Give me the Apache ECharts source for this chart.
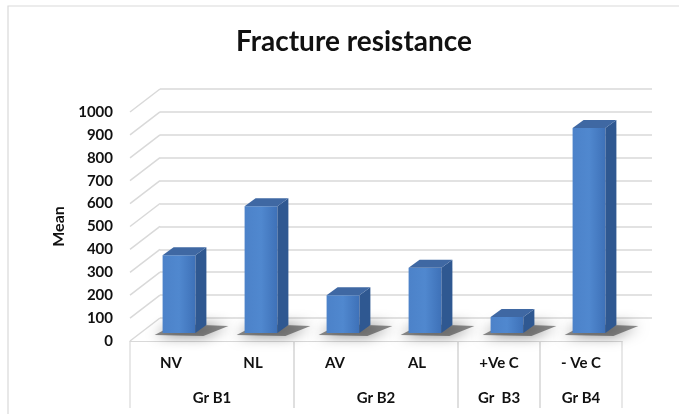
<!DOCTYPE html>
<html>
<head>
<meta charset="utf-8">
<script src="https://cdn.jsdelivr.net/npm/echarts@6/dist/echarts.min.js"></script>
<style>
  html, body { margin: 0; padding: 0; background: #fff; }
  #chart { width: 679px; height: 414px; }
</style>
</head>
<body>
<div id="chart"></div>
<script>
const categories = ['NV', 'NL', 'AV', 'AL', '+Ve C', '- Ve C'];
const meanValues = [340, 553, 165, 285, 70, 895];
const groupNames = ['Gr B1', 'Gr B2', 'Gr  B3', 'Gr B4'];
const groupStart = [0, 2, 4, 5];
const groupEnd = [1, 3, 4, 5];
const yTicks = [0, 100, 200, 300, 400, 500, 600, 700, 800, 900, 1000];

// fake 3d: back wall and bar plane are shifted copies of the front plane
const FRONT = { left: 130, top: 112, width: 492, height: 229 };
const WALL_DX = 30, WALL_DY = 23;
const BAR_DX = 8, BAR_DY = 8;
const BAR_DEPTH_X = 11, BAR_DEPTH_Y = 8;
const GRID_COLOR = '#d9d9d9';
const FONT = 'Lato';

const chart = echarts.init(document.getElementById('chart'));

function slantRender(params, api) {
  const p = api.coord([0, api.value(1)]);
  const x0 = p[0] - api.size([1, 0])[0] / 2;
  return {
    type: 'line',
    shape: { x1: x0, y1: p[1], x2: x0 + WALL_DX, y2: p[1] - WALL_DY },
    style: { stroke: GRID_COLOR, lineWidth: 1.5 }
  };
}

function tableRender(params, api) {
  const band = api.size([1, 0])[0];
  const a = api.coord([api.value(0), 0]);
  const b = api.coord([api.value(1), 0]);
  const x0 = a[0] - band / 2, x1 = b[0] + band / 2, y0 = a[1];
  return {
    type: 'group',
    children: [
      { type: 'line', shape: { x1: x0, y1: y0, x2: x0, y2: y0 + 67 }, style: { stroke: GRID_COLOR, lineWidth: 1.2 } },
      { type: 'line', shape: { x1: x1, y1: y0, x2: x1, y2: y0 + 67 }, style: { stroke: GRID_COLOR, lineWidth: 1.2 } },
      {
        type: 'text',
        style: {
          text: groupNames[params.dataIndex], x: (x0 + x1) / 2, y: y0 + 57,
          align: 'center', verticalAlign: 'middle',
          font: 'bold 15px ' + FONT, fill: '#111'
        }
      }
    ]
  };
}

function barRender(params, api) {
  const base = api.coord([api.value(0), 0]);
  const top = api.coord([api.value(0), api.value(1)]);
  const bw = api.size([1, 0])[0] * 0.4;
  const x0 = base[0] - bw / 2, x1 = base[0] + bw / 2;
  const yb = base[1], yt = top[1];
  const dx = BAR_DEPTH_X, dy = BAR_DEPTH_Y;
  return {
    type: 'group',
    children: [
      {
        type: 'polygon',
        shape: { points: [[x0 - 8, yb + 2], [x1 + 8, yb + 3], [x1 + dx + 22, yb - dy + 1], [x0 + dx + 2, yb - dy - 1]] },
        style: { fill: 'rgba(50,50,50,0.55)', shadowBlur: 14, shadowColor: 'rgba(0,0,0,0.9)' }
      },
      {
        type: 'rect',
        shape: { x: x0, y: yt, width: bw, height: yb - yt },
        style: {
          fill: new echarts.graphic.LinearGradient(0, 0, 1, 0, [
            { offset: 0, color: '#4c82c9' },
            { offset: 0.5, color: '#5088cf' },
            { offset: 1, color: '#3e71b8' }
          ])
        }
      },
      {
        type: 'polygon',
        shape: { points: [[x1, yt], [x1 + dx, yt - dy], [x1 + dx, yb - dy], [x1, yb]] },
        style: { fill: '#2f5891' }
      },
      {
        type: 'polygon',
        shape: { points: [[x0, yt], [x0 + dx, yt - dy], [x1 + dx, yt - dy], [x1, yt]] },
        style: { fill: '#3f68a3' }
      }
    ]
  };
}

const option = {
  animation: false,
  backgroundColor: '#fff',
  title: {
    text: 'Fracture resistance',
    left: 349, top: 23, textAlign: 'center',
    textStyle: { fontFamily: FONT, fontWeight: 'bold', fontSize: 28, color: '#111' }
  },
  graphic: [
    {
      type: 'rect', silent: true,
      shape: { x: 8, y: 6, width: 700, height: 500 },
      style: { fill: 'none', stroke: GRID_COLOR, lineWidth: 1.2 }
    },
    {
      type: 'text', silent: true,
      style: {
        text: 'were then compared and the specimens per row were significantly different by day',
        x: 20, y: -1, verticalAlign: 'bottom',
        font: '17px "Liberation Serif"', fill: '#222'
      }
    }
  ],
  grid: [
    { left: FRONT.left, top: FRONT.top, width: FRONT.width, height: FRONT.height },
    { left: FRONT.left + WALL_DX, top: FRONT.top - WALL_DY, width: FRONT.width, height: FRONT.height },
    { left: FRONT.left + BAR_DX, top: FRONT.top - BAR_DY, width: FRONT.width, height: FRONT.height }
  ],
  xAxis: [
    {
      gridIndex: 0, type: 'category', data: categories,
      axisLine: { lineStyle: { color: GRID_COLOR, width: 1.2 } },
      axisTick: { show: false },
      axisLabel: { margin: 15, fontFamily: FONT, fontWeight: 'bold', fontSize: 15, color: '#111' }
    },
    { gridIndex: 1, type: 'category', data: categories, show: false },
    { gridIndex: 2, type: 'category', data: categories, show: false }
  ],
  yAxis: [
    {
      gridIndex: 0, type: 'value', min: 0, max: 1000, interval: 100,
      name: 'Mean', nameLocation: 'middle', nameGap: 58, nameRotate: 90,
      nameTextStyle: { fontFamily: FONT, fontWeight: 'bold', fontSize: 16, color: '#111' },
      axisLine: { show: false }, axisTick: { show: false }, splitLine: { show: false },
      axisLabel: {
        margin: 17, fontFamily: FONT, fontWeight: 'bold', fontSize: 15, color: '#111',
        formatter: v => String(v)
      }
    },
    {
      gridIndex: 1, type: 'value', min: 0, max: 1000, interval: 100,
      axisLine: { show: false }, axisTick: { show: false }, axisLabel: { show: false },
      splitLine: { lineStyle: { color: GRID_COLOR, width: 1.5 } }
    },
    { gridIndex: 2, type: 'value', min: 0, max: 1000, show: false }
  ],
  series: [
    {
      type: 'custom', xAxisIndex: 0, yAxisIndex: 0,
      renderItem: slantRender,
      data: yTicks.map(v => [0, v]),
      silent: true, z: 1
    },
    {
      type: 'custom', xAxisIndex: 0, yAxisIndex: 0,
      renderItem: tableRender,
      data: groupStart.map((s, i) => [s, groupEnd[i]]),
      encode: { x: 0, y: -1 },
      silent: true, z: 1
    },
    {
      type: 'custom', xAxisIndex: 2, yAxisIndex: 2,
      renderItem: barRender,
      data: meanValues.map((v, i) => [i, v]),
      z: 5
    }
  ]
};

chart.setOption(option);
</script>
</body>
</html>
